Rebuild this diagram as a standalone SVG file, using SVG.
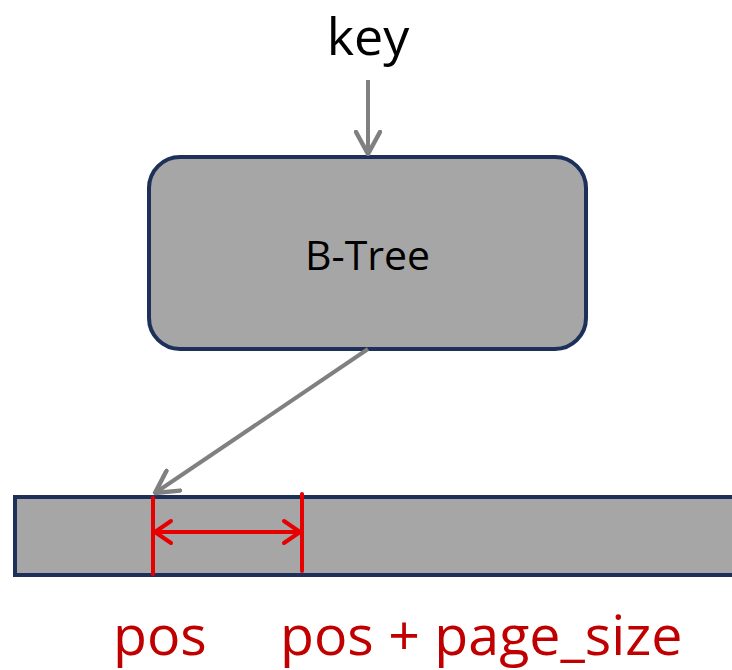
<svg xmlns="http://www.w3.org/2000/svg" width="732" height="670" viewBox="0 0 732 670">
  <style>
    .node-box { fill: #a6a6a6; stroke: #1c3059; stroke-width: 4; }
    .conn { fill: none; stroke: #808080; stroke-width: 4; }
    .span { fill: none; stroke: #e60000; stroke-width: 4; stroke-linecap: round; stroke-linejoin: round; }
    .label { font-family: "Open Sans", "Liberation Sans", sans-serif; fill: #000; }
    .range-label { font-family: "Open Sans", "Liberation Sans", sans-serif; fill: #c00000; font-size: 55.5px; }
  </style>
  <defs>
    <marker id="open-arrow" viewBox="0 0 26 28" refX="24" refY="14" markerWidth="26" markerHeight="28" markerUnits="userSpaceOnUse" orient="auto">
      <path d="M2,2 L24,14 L2,26" fill="none" stroke="#808080" stroke-width="4.5" stroke-linecap="round" stroke-linejoin="round"/>
    </marker>
  </defs>

  <rect width="732" height="670" fill="#ffffff"/>

  <!-- input label -->
  <g id="key">
    <text class="label" x="368" y="55" font-size="52" text-anchor="middle">key</text>
  </g>

  <!-- index structure -->
  <g id="btree">
    <rect class="node-box" x="149" y="157" width="437" height="192" rx="31" ry="31"/>
    <text class="label" x="367.5" y="270" font-size="41" text-anchor="middle">B-Tree</text>
  </g>

  <!-- data file strip -->
  <g id="file">
    <rect class="node-box" x="15" y="497" width="740" height="78"/>
  </g>

  <!-- page range inside the file -->
  <g id="page-range">
    <line class="span" x1="153" y1="498" x2="153" y2="574"/>
    <line class="span" x1="302" y1="494" x2="302" y2="571"/>
    <line class="span" x1="155" y1="532" x2="300" y2="532"/>
    <path class="span" d="M171,521 L155,532 L171,543"/>
    <path class="span" d="M284,521 L300,532 L284,543"/>
  </g>

  <g id="labels">
    <text class="range-label" x="113" y="655">pos</text>
    <text class="range-label" x="280" y="655">pos + page_size</text>
  </g>

  <!-- connectors -->
  <g id="connectors">
    <line class="conn" x1="368" y1="80" x2="368" y2="154" marker-end="url(#open-arrow)"/>
    <line class="conn" x1="368" y1="349" x2="155" y2="493" marker-end="url(#open-arrow)"/>
  </g>
</svg>
